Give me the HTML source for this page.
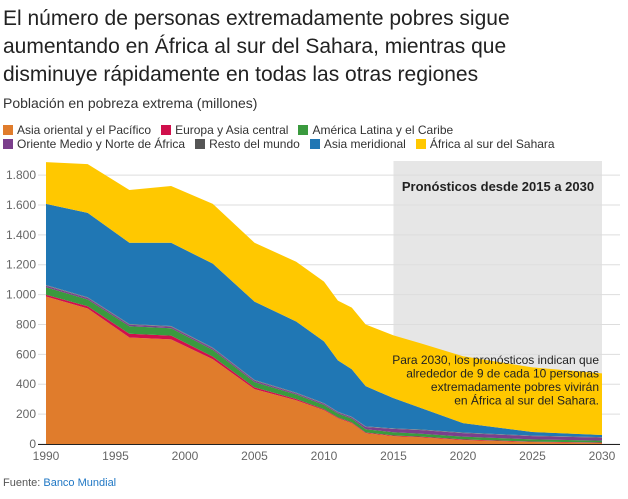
<!DOCTYPE html>
<html><head><meta charset="utf-8"><style>
body{margin:0;background:#fff;font-family:"Liberation Sans",sans-serif;width:628px;height:499px;overflow:hidden;position:relative}
.t{position:absolute;left:3px;top:5px;font-size:21px;line-height:28px;color:#222;width:560px}
.s{position:absolute;left:3px;top:95px;font-size:14px;color:#333}
.lg{position:absolute;left:3px;font-size:12px;color:#333;display:flex;gap:10px}
.lg span{display:inline-flex;align-items:center}
.lg i{display:inline-block;width:10px;height:10px;margin-right:4px}
.f{position:absolute;left:3px;top:477px;font-size:11px;color:#555}
</style></head><body>
<div class="t">El número de personas extremadamente pobres sigue aumentando en África al sur del Sahara, mientras que disminuye rápidamente en todas las otras regiones</div>
<div class="s">Población en pobreza extrema (millones)</div>
<div class="lg" style="top:123px">
<span><i style="background:#e07c2c"></i>Asia oriental y el Pacífico</span>
<span><i style="background:#d0104c"></i>Europa y Asia central</span>
<span><i style="background:#3a9a3e"></i>América Latina y el Caribe</span></div>
<div class="lg" style="top:137px">
<span><i style="background:#7b3f8c"></i>Oriente Medio y Norte de África</span>
<span><i style="background:#555"></i>Resto del mundo</span>
<span><i style="background:#2077b4"></i>Asia meridional</span>
<span><i style="background:#ffc800"></i>África al sur del Sahara</span></div>
<svg id="c" width="628" height="499" style="position:absolute;left:0;top:0"></svg>
<div class="f">Fuente: <span style="color:#1f77c4">Banco Mundial</span></div>
<script>
const years=[1990,1993,1996,1999,2002,2005,2008,2010,2011,2012,2013,2015,2017,2020,2025,2030];
const orange=[987,907,713,700,567,367,293,227,173,140,73,53,45,27,13,7];
const red=[12,15,25,25,18,12,8,6,5,5,4,4,4,4,3,3];
const green=[50,45,50,50,45,35,30,28,26,25,22,22,20,18,15,13];
const purple=[10,10,10,10,10,10,8,8,8,8,15,22,24,24,22,20];
const resto=[5,5,5,5,5,5,5,5,4,4,4,4,4,4,3,3];
const blue=[543,565,544,557,562,524,476,413,344,318,269,202,143,63,24,14];
const yellow=[280,326,353,380,400,394,400,400,400,413,413,420,433,447,433,413];
const yTicks=[0,200,400,600,800,1000,1200,1400,1600,1800];
const yLabels=["0","200","400","600","800","1.000","1.200","1.400","1.600","1.800"];
const xTicks=[1990,1995,2000,2005,2010,2015,2020,2025,2030];
const forecastStart=2015, forecastEnd=2030;
const NS="http://www.w3.org/2000/svg",svg=document.getElementById('c');
const x=v=>46+(v-1990)*(556/40), y=v=>444-v*0.1494;
function mk(t,a){const e=document.createElementNS(NS,t);for(const k in a)e.setAttribute(k,a[k]);svg.appendChild(e);return e;}
const bg=mk('rect',{x:x(forecastStart),y:161,width:x(forecastEnd)-x(forecastStart),height:283,fill:'#e6e6e6'});


yTicks.forEach((v,i)=>{
 const l=mk('line',{x1:38,x2:620,y1:y(v),y2:y(v),stroke:'#ddd','stroke-width':1});
 
 
 const t=mk('text',{x:36,y:y(v)+4,'text-anchor':'end','font-size':12,fill:'#666'});t.textContent=yLabels[i];
 
 
});
const series=[[orange,'#e07c2c','area-asia-oriental'],[red,'#d0104c','area-europa'],[green,'#3a9a3e','area-america-latina'],[purple,'#7b3f8c','area-oriente-medio'],[resto,'#777','area-resto'],[blue,'#2077b4','area-asia-meridional'],[yellow,'#ffc800','area-africa']];
let base=years.map(()=>0);
series.forEach(([d,c,n])=>{
 const top=base.map((b,i)=>b+d[i]);
 let p='M'+years.map((yr,i)=>x(yr)+','+y(top[i])).join('L');
 for(let i=years.length-1;i>=0;i--)p+='L'+x(years[i])+','+y(base[i]);
 const e=mk('path',{d:p+'Z',fill:c});
 
 
 base=top;
});
const ax=mk('line',{x1:38,x2:620,y1:444.5,y2:444.5,stroke:'#222','stroke-width':1});


xTicks.forEach(v=>{const t=mk('text',{x:x(v),y:460,'text-anchor':'middle','font-size':12,fill:'#666'});t.textContent=v;
 
 });
const ft=mk('text',{x:498,y:191,'text-anchor':'middle','font-size':13,'font-weight':'bold',fill:'#222'});ft.textContent='Pronósticos desde 2015 a 2030';


["Para 2030, los pronósticos indican que","alrededor de 9 de cada 10 personas","extremadamente pobres vivirán","en África al sur del Sahara."].forEach((s,i)=>{
 const t=mk('text',{x:599,y:364+i*13.5,'text-anchor':'end','font-size':12,fill:'#222'});t.textContent=s;
 
 
});
</script>
</body></html>
